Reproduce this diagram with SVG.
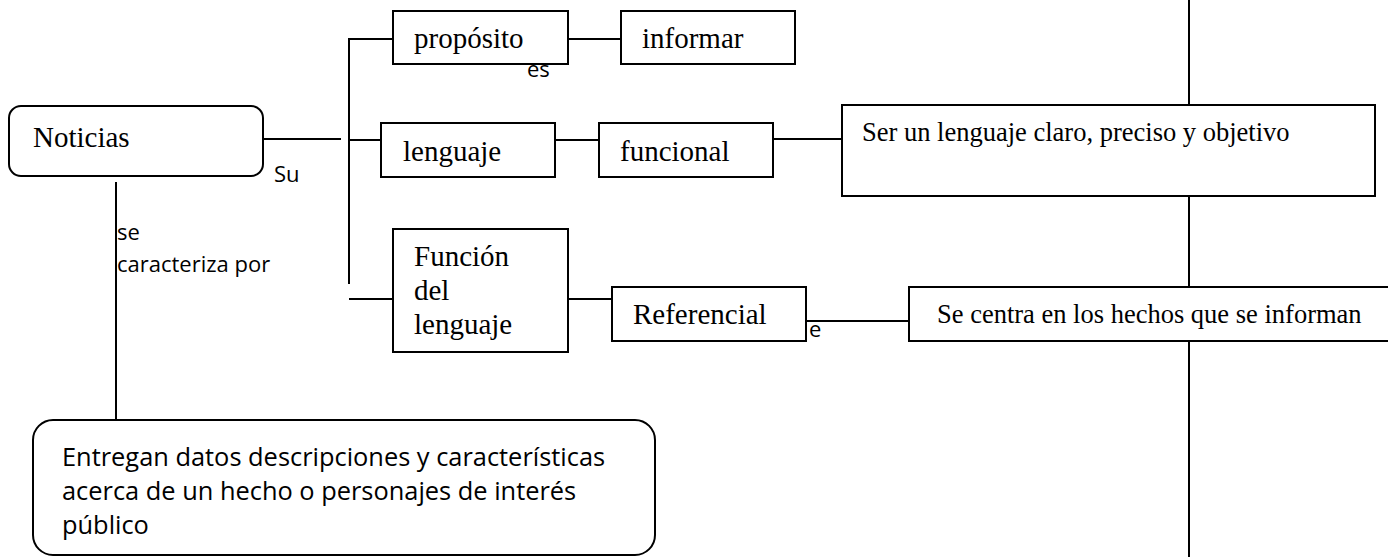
<svg xmlns="http://www.w3.org/2000/svg" width="1388" height="557" viewBox="0 0 1388 557">
<style>
.box{fill:#fff;stroke:#000;stroke-width:2}
.ln{stroke:#000;stroke-width:2;fill:none}
.ser{font-family:"Liberation Serif","Times New Roman",serif;font-size:29px;fill:#000}
.ser2{font-family:"Liberation Serif","Times New Roman",serif;font-size:26.5px;fill:#000}
.sans{font-family:"Open Sans","Noto Sans",sans-serif;font-size:22px;fill:#000}
.big{font-family:"Open Sans","Noto Sans",sans-serif;font-size:25.4px;fill:#000}
</style>
<rect width="1388" height="557" fill="#fff"/>
<g id="connectors">
<line class="ln" x1="1189" y1="0" x2="1189" y2="105"/>
<line class="ln" x1="1189" y1="196" x2="1189" y2="287"/>
<line class="ln" x1="1189" y1="341" x2="1189" y2="557"/>
<line class="ln" x1="263" y1="139" x2="341" y2="139"/>
<polyline class="ln" points="393,39 349,39 349,284"/>
<line class="ln" x1="349" y1="140" x2="381" y2="140"/>
<line class="ln" x1="349" y1="299" x2="393" y2="299"/>
<line class="ln" x1="568" y1="39" x2="621" y2="39"/>
<line class="ln" x1="555" y1="140" x2="599" y2="140"/>
<line class="ln" x1="773" y1="139" x2="842" y2="139"/>
<line class="ln" x1="568" y1="299" x2="612" y2="299"/>
<line class="ln" x1="806" y1="321" x2="909" y2="321"/>
<line class="ln" x1="116" y1="182" x2="116" y2="420"/>
<text class="sans" x="274" y="182">Su</text>
<text class="sans" x="527" y="77">es</text>
<text class="sans" x="809" y="337">e</text>
<text class="sans" x="117" y="240" font-size="23">se</text>
<text class="sans" x="117" y="272" font-size="23">caracteriza por</text>
</g>
<g id="noticias">
<rect class="box" x="9" y="106" width="254" height="70" rx="12"/>
<text class="ser" x="33" y="147">Noticias</text>
</g>
<g id="proposito">
<rect class="box" x="393" y="11" width="175" height="53"/>
<text class="ser" x="414" y="48">propósito</text>
</g>
<g id="informar">
<rect class="box" x="621" y="11" width="174" height="53"/>
<text class="ser" x="642" y="48">informar</text>
</g>
<g id="lenguaje">
<rect class="box" x="381" y="123" width="174" height="54"/>
<text class="ser" x="403" y="161">lenguaje</text>
</g>
<g id="funcional">
<rect class="box" x="599" y="123" width="174" height="54"/>
<text class="ser" x="620" y="161">funcional</text>
</g>
<g id="ser-lenguaje">
<rect class="box" x="842" y="105" width="533" height="91"/>
<text class="ser2" x="862" y="141">Ser un lenguaje claro, preciso y objetivo</text>
</g>
<g id="funcion">
<rect class="box" x="393" y="229" width="175" height="123"/>
<text class="ser" x="414" y="266">Función</text>
<text class="ser" x="414" y="300">del</text>
<text class="ser" x="414" y="334">lenguaje</text>
</g>
<g id="referencial">
<rect class="box" x="612" y="287" width="194" height="54"/>
<text class="ser" x="633" y="324">Referencial</text>
</g>
<g id="se-centra">
<rect class="box" x="909" y="287" width="480" height="54"/>
<text class="ser2" x="937" y="323">Se centra en los hechos que se informan</text>
</g>
<g id="entregan">
<rect class="box" x="33" y="420" width="622" height="135" rx="20"/>
<text class="big" x="62" y="466">Entregan datos descripciones y características</text>
<text class="big" x="62" y="500">acerca de un hecho o personajes de interés</text>
<text class="big" x="62" y="534">público</text>
</g>
</svg>
